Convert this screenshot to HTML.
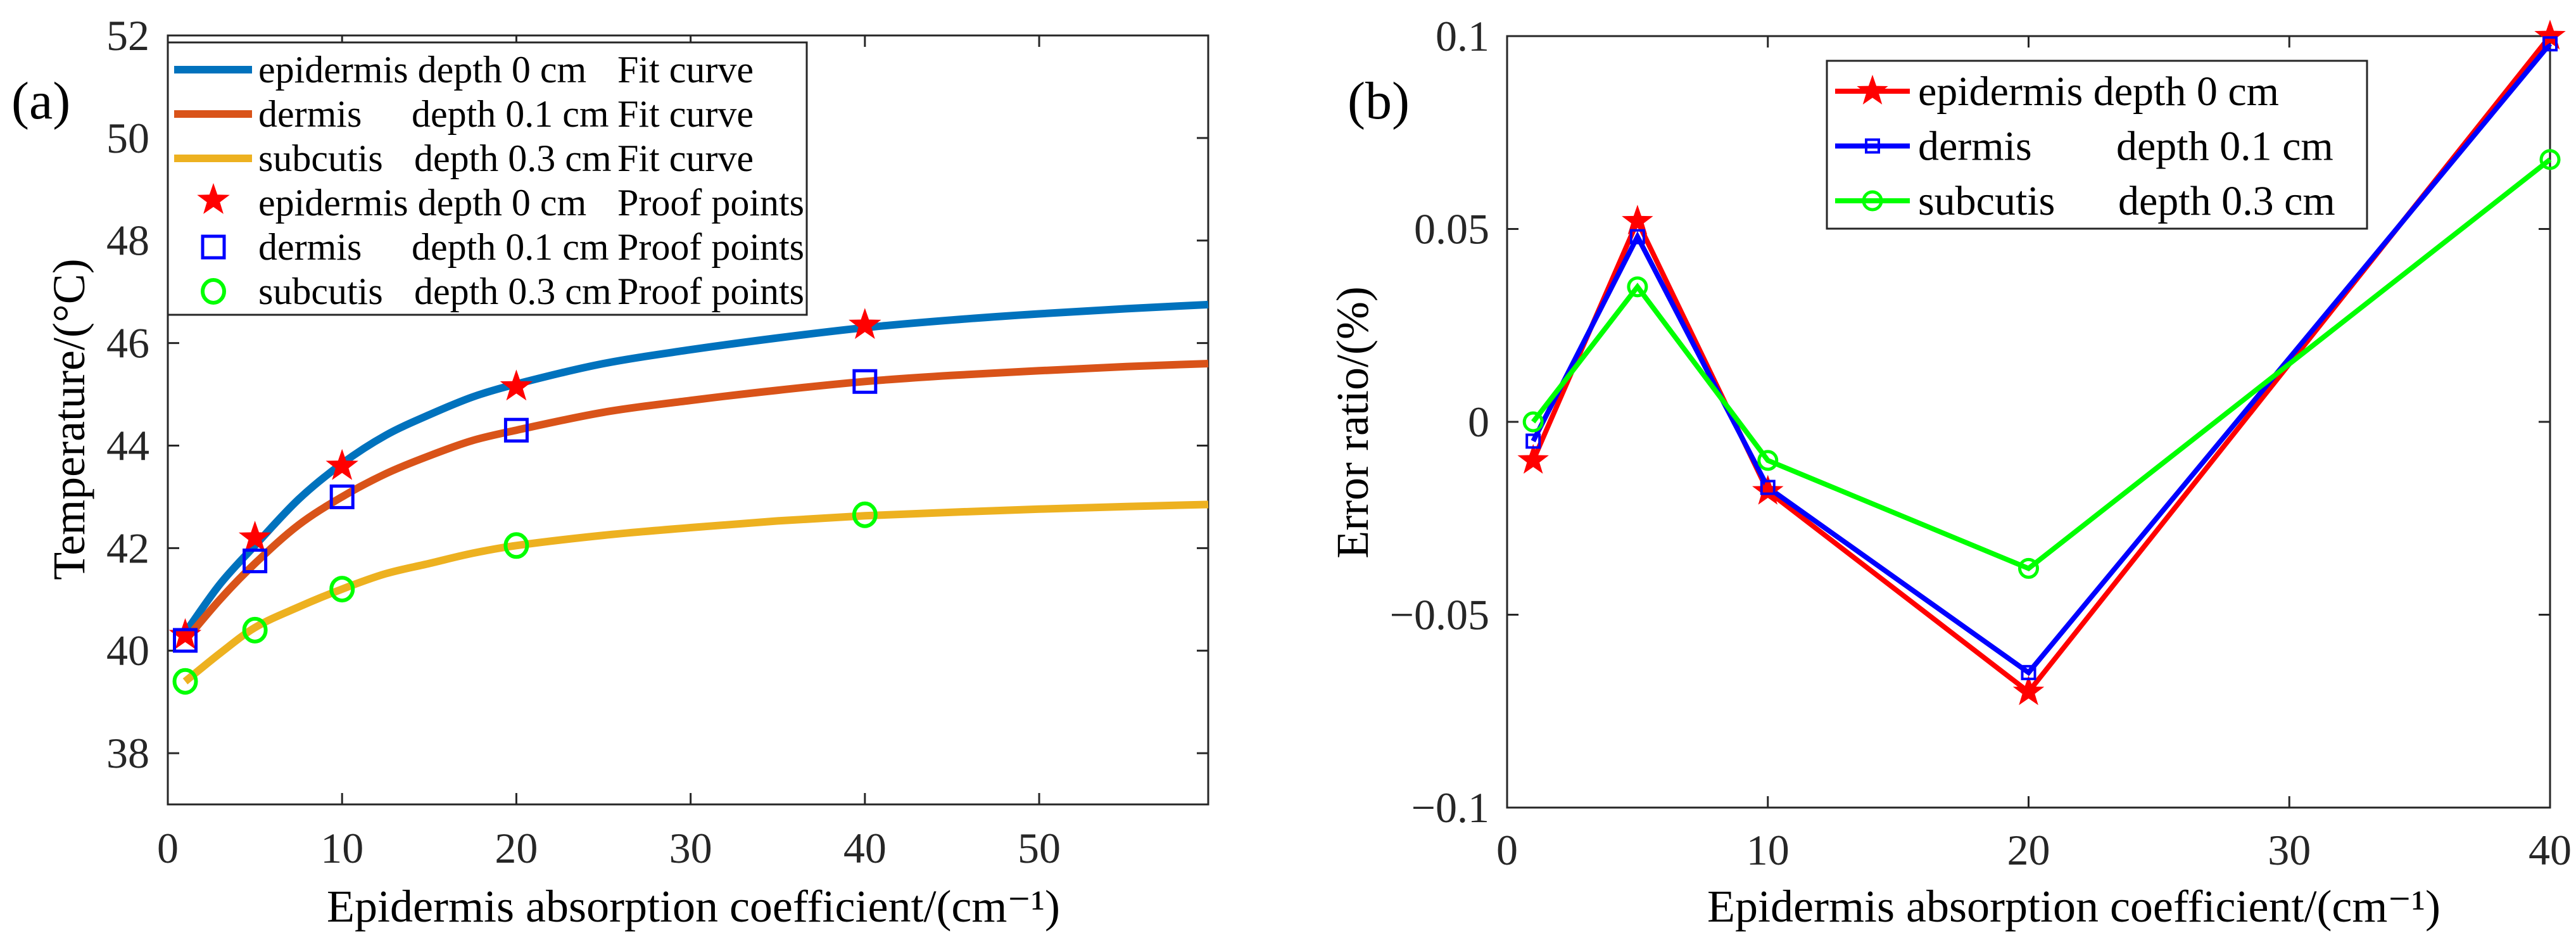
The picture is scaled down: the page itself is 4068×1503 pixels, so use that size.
<!DOCTYPE html>
<html><head><meta charset="utf-8"><style>
html,body{margin:0;padding:0;background:#fff;}
svg, svg text{font-family:"Liberation Serif","Times New Roman","DejaVu Serif",serif;}
</style></head><body>
<svg id="chart" width="4068" height="1498" viewBox="0 0 4068 1498" xmlns="http://www.w3.org/2000/svg" font-family="Liberation Serif, Times New Roman, DejaVu Serif, serif">
<rect width="4068" height="1498" fill="#fff"/>
<g id="pa"></g>
<g id="pb"></g>
</svg>
<script>
// ---- Panel (a) data ----
const aXTicks=[0,10,20,30,40,50];
const aYTicks=[38,40,42,44,46,48,50,52];
const aFitX=[1,3,5,7.5,10,12.5,15,17.5,20,25,30,35,40,45,50,55,59.7];
const aFitEpi=[40.35,41.3,42.05,42.95,43.65,44.2,44.6,44.95,45.2,45.6,45.87,46.1,46.3,46.45,46.57,46.67,46.75];
const aFitDer=[40.2,41.0,41.7,42.45,43.0,43.45,43.8,44.1,44.3,44.65,44.88,45.08,45.25,45.37,45.46,45.54,45.6];
const aFitSub=[39.4,39.95,40.45,40.85,41.2,41.5,41.7,41.9,42.05,42.25,42.4,42.53,42.63,42.7,42.76,42.81,42.85];
const aPtX=[1,5,10,20,40];
const aPtEpi=[40.3,42.2,43.6,45.15,46.35];
const aPtDer=[40.2,41.75,43.0,44.3,45.25];
const aPtSub=[39.4,40.4,41.2,42.05,42.65];
// ---- Panel (b) data ----
const bXTicks=[0,10,20,30,40];
const bYTicks=[-0.1,-0.05,0,0.05,0.1];
const bYLabels=["\u22120.1","\u22120.05","0","0.05","0.1"];
const bX=[1,5,10,20,40];
const bEpi=[-0.01,0.052,-0.018,-0.07,0.1];
const bDer=[-0.005,0.048,-0.017,-0.065,0.098];
const bSub=[0,0.035,-0.01,-0.038,0.068];

const NS="http://www.w3.org/2000/svg";
const FF="Liberation Serif, Times New Roman, DejaVu Serif, serif";
function mk(parent,tag,attrs,text){const e=document.createElementNS(NS,tag);for(const k in attrs)e.setAttribute(k,attrs[k]);if(tag==='text')e.setAttribute('font-family',FF);if(text!==undefined)e.textContent=text;parent.appendChild(e);return e;}
function star(cx,cy,r){let p=[];for(let i=0;i<10;i++){const rr=i%2?r*0.4:r;const a=-Math.PI/2+i*Math.PI/5;p.push((cx+rr*Math.cos(a)).toFixed(1)+","+(cy+rr*Math.sin(a)).toFixed(1));}return p.join(" ");}
function smooth(pts){const n=pts.length;const m=[];for(let i=0;i<n;i++){const a=pts[Math.max(0,i-1)],b=pts[Math.min(n-1,i+1)];m.push((b[1]-a[1])/(b[0]-a[0]));}
 let d="M"+pts[0][0].toFixed(1)+","+pts[0][1].toFixed(1);
 for(let i=0;i<n-1;i++){const p1=pts[i],p2=pts[i+1],dx=(p2[0]-p1[0])/3;
  d+=" C"+(p1[0]+dx).toFixed(1)+","+(p1[1]+m[i]*dx).toFixed(1)+" "+(p2[0]-dx).toFixed(1)+","+(p2[1]-m[i+1]*dx).toFixed(1)+" "+p2[0].toFixed(1)+","+p2[1].toFixed(1);}
 return d;}

// ===== Panel A =====
const A=document.getElementById('pa');
const aL=265,aR=1908,aT=56,aB=1270,aX0=0,aX1=59.7,aY0=37,aY1=52;
const ax=v=>aL+(v-aX0)/(aX1-aX0)*(aR-aL);
const ay=v=>aB-(v-aY0)/(aY1-aY0)*(aB-aT);
let e;
e=mk(A,'rect',{x:aL,y:aT,width:aR-aL,height:aB-aT,fill:'none',stroke:'#262626','stroke-width':3});


aXTicks.forEach(t=>{const x=ax(t);
 mk(A,'line',{x1:x,y1:aB,x2:x,y2:aB-18,stroke:'#262626','stroke-width':3});
 mk(A,'line',{x1:x,y1:aT,x2:x,y2:aT+18,stroke:'#262626','stroke-width':3});
 e=mk(A,'text',{x:x,y:1362,'font-size':68,'text-anchor':'middle',fill:'#262626'},String(t));
 
 });
aYTicks.forEach(t=>{const y=ay(t);
 mk(A,'line',{x1:aL,y1:y,x2:aL+18,y2:y,stroke:'#262626','stroke-width':3});
 mk(A,'line',{x1:aR,y1:y,x2:aR-18,y2:y,stroke:'#262626','stroke-width':3});
 e=mk(A,'text',{x:236,y:y+23,'font-size':68,'text-anchor':'end',fill:'#262626'},String(t));
 
 });
e=mk(A,'text',{x:1095,y:1455,'font-size':72,'text-anchor':'middle',fill:'#000'},'Epidermis absorption coefficient/(cm\u207B\u00B9)');


e=mk(A,'text',{x:0,y:0,'font-size':72,'text-anchor':'middle',fill:'#000',transform:'translate(133,662) rotate(-90)'},'Temperature/(\u00B0C)');


e=mk(A,'text',{x:18,y:187,'font-size':84,fill:'#000'},'(a)');



const fitCols=['#0072BD','#D95319','#EDB120'];
[aFitEpi,aFitDer,aFitSub].forEach((s,i)=>{const pts=aFitX.map((x,j)=>[ax(x),ay(s[j])]);
 e=mk(A,'path',{d:smooth(pts),fill:'none',stroke:fitCols[i],'stroke-width':12});
 
 });
aPtX.forEach((x,j)=>{
 e=mk(A,'polygon',{points:star(ax(x),ay(aPtEpi[j]),27),fill:'#FF0000'});
 
 
 e=mk(A,'rect',{x:ax(x)-17,y:ay(aPtDer[j])-17,width:34,height:34,fill:'none',stroke:'#0000FF','stroke-width':5});
 
 
 e=mk(A,'ellipse',{cx:ax(x),cy:ay(aPtSub[j]),rx:17,ry:18,fill:'none',stroke:'#00FF00','stroke-width':6});
 
 });

// legend a
const LA=mk(A,'g',{});


mk(LA,'rect',{x:265,y:67,width:1009,height:430,fill:'#fff',stroke:'#262626','stroke-width':3});
const rowsA=[
 ['epidermis depth 0 cm',null,'Fit curve'],['dermis','depth 0.1 cm','Fit curve'],['subcutis','depth 0.3 cm','Fit curve'],
 ['epidermis depth 0 cm',null,'Proof points'],['dermis','depth 0.1 cm','Proof points'],['subcutis','depth 0.3 cm','Proof points']];
rowsA.forEach((r,i)=>{const cy=110+i*70;
 const g=mk(LA,'g',{});
 
 
 if(i<3) mk(g,'line',{x1:275,y1:cy,x2:398,y2:cy,stroke:fitCols[i],'stroke-width':12});
 else if(i===3) mk(g,'polygon',{points:star(337,cy-4,27),fill:'#FF0000'});
 else if(i===4) mk(g,'rect',{x:320,y:cy-17,width:34,height:34,fill:'none',stroke:'#0000FF','stroke-width':5});
 else mk(g,'ellipse',{cx:337,cy:cy,rx:17,ry:18,fill:'none',stroke:'#00FF00','stroke-width':6});
 mk(g,'text',{x:408,y:cy+20,'font-size':60,fill:'#000'},r[0]);
 if(r[1]) mk(g,'text',{x:r[0]==='dermis'?650:654,y:cy+20,'font-size':60,fill:'#000'},r[1]);
 mk(g,'text',{x:975,y:cy+20,'font-size':60,fill:'#000'},r[2]);});

// ===== Panel B =====
const B=document.getElementById('pb');
const bL=2380,bR=4027,bT=57,bB=1275,bX0=0,bX1=40,bY0=-0.1,bY1=0.1;
const bx=v=>bL+(v-bX0)/(bX1-bX0)*(bR-bL);
const by=v=>bB-(v-bY0)/(bY1-bY0)*(bB-bT);
e=mk(B,'rect',{x:bL,y:bT,width:bR-bL,height:bB-bT,fill:'none',stroke:'#262626','stroke-width':3});


bXTicks.forEach(t=>{const x=bx(t);
 mk(B,'line',{x1:x,y1:bB,x2:x,y2:bB-18,stroke:'#262626','stroke-width':3});
 mk(B,'line',{x1:x,y1:bT,x2:x,y2:bT+18,stroke:'#262626','stroke-width':3});
 e=mk(B,'text',{x:x,y:1365,'font-size':68,'text-anchor':'middle',fill:'#262626'},String(t));
 
 });
bYTicks.forEach((t,i)=>{const y=by(t);
 mk(B,'line',{x1:bL,y1:y,x2:bL+18,y2:y,stroke:'#262626','stroke-width':3});
 mk(B,'line',{x1:bR,y1:y,x2:bR-18,y2:y,stroke:'#262626','stroke-width':3});
 e=mk(B,'text',{x:2352,y:y+23,'font-size':68,'text-anchor':'end',fill:'#262626'},bYLabels[i]);
 
 });
e=mk(B,'text',{x:3275,y:1455,'font-size':72,'text-anchor':'middle',fill:'#000'},'Epidermis absorption coefficient/(cm\u207B\u00B9)');


e=mk(B,'text',{x:0,y:0,'font-size':72,'text-anchor':'middle',fill:'#000',transform:'translate(2160,667) rotate(-90)'},'Error ratio/(%)');


e=mk(B,'text',{x:2128,y:187,'font-size':84,fill:'#000'},'(b)');



const bCols=['#FF0000','#0000FF','#00FF00'];
const bNames=['epidermis','dermis','subcutis'];
[bEpi,bDer,bSub].forEach((s,i)=>{
 e=mk(B,'polyline',{points:bX.map((x,j)=>bx(x)+','+by(s[j])).join(' '),fill:'none',stroke:bCols[i],'stroke-width':8,'stroke-linejoin':'miter'});
 
 });
[bEpi,bDer,bSub].forEach((s,i)=>{
 bX.forEach((x,j)=>{const cx=bx(x),cy=by(s[j]);
  if(i===0) e=mk(B,'polygon',{points:star(cx,cy,26),fill:'#FF0000'});
  else if(i===1) e=mk(B,'rect',{x:cx-10,y:cy-10,width:20,height:20,fill:'none',stroke:'#0000FF','stroke-width':4});
  else e=mk(B,'circle',{cx:cx,cy:cy,r:14,fill:'none',stroke:'#00FF00','stroke-width':5});
  
  });});

const LB=mk(B,'g',{});


mk(LB,'rect',{x:2885,y:96,width:853,height:265,fill:'#fff',stroke:'#262626','stroke-width':3});
const rowsB=[['epidermis depth 0 cm',null],['dermis','depth 0.1 cm'],['subcutis','depth 0.3 cm']];
rowsB.forEach((r,i)=>{const cy=144+i*86.5;
 const g=mk(LB,'g',{});
 
 
 mk(g,'line',{x1:2898,y1:cy,x2:3016,y2:cy,stroke:bCols[i],'stroke-width':8});
 if(i===0) mk(g,'polygon',{points:star(2957,cy,26),fill:'#FF0000'});
 else if(i===1) mk(g,'rect',{x:2947,y:cy-10,width:20,height:20,fill:'none',stroke:'#0000FF','stroke-width':4});
 else mk(g,'circle',{cx:2957,cy:cy,r:14,fill:'none',stroke:'#00FF00','stroke-width':5});
 mk(g,'text',{x:3029,y:cy+22,'font-size':66,fill:'#000'},r[0]);
 if(r[1]) mk(g,'text',{x:i===1?3342:3345,y:cy+22,'font-size':66,fill:'#000'},r[1]);});
</script>
</body></html>
